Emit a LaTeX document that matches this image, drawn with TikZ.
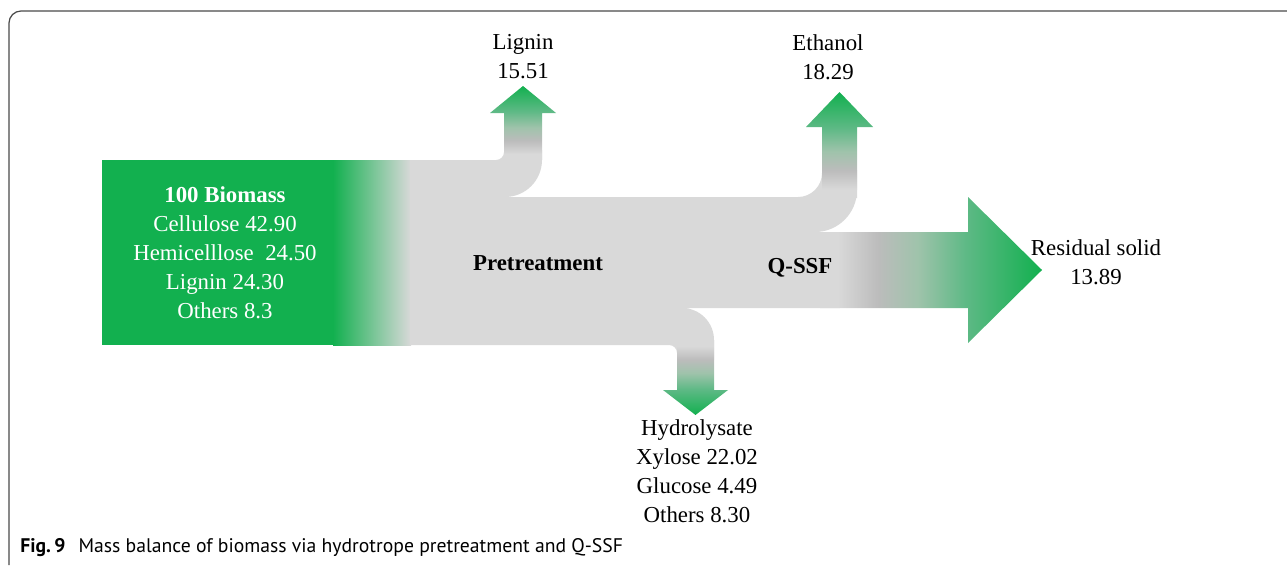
\documentclass[tikz,border=0pt]{standalone}
\usepackage{fontspec}
\setmainfont{Liberation Serif}
\newfontfamily\capfont{PT Sans}
\usepackage{xcolor}

\definecolor{leafgreen}{HTML}{12B04F}
\definecolor{flowgray}{HTML}{D9D9D9}
\definecolor{flowmid}{HTML}{BCBCBC}
\definecolor{flowsage}{HTML}{9FC3AB}
\definecolor{flowmint}{HTML}{5DB985}
\definecolor{framegray}{HTML}{4A4A4A}

% gray-to-green fades for the outgoing streams
\pgfdeclarehorizontalshading{toright}{100bp}{color(0bp)=(flowgray); color(25bp)=(flowgray);
    color(29bp)=(flowgray); color(38bp)=(flowmid); color(47bp)=(flowsage); color(58bp)=(flowmint);
    color(75bp)=(leafgreen); color(100bp)=(leafgreen)}
\pgfdeclareverticalshading{toup}{100bp}{color(0bp)=(flowgray); color(25bp)=(flowgray);
    color(29bp)=(flowgray); color(38bp)=(flowmid); color(47bp)=(flowsage); color(58bp)=(flowmint);
    color(75bp)=(leafgreen); color(100bp)=(leafgreen)}
\pgfdeclareverticalshading{todown}{100bp}{color(0bp)=(leafgreen); color(25bp)=(leafgreen);
    color(42bp)=(flowmint); color(53bp)=(flowsage); color(62bp)=(flowmid); color(71bp)=(flowgray);
    color(75bp)=(flowgray); color(100bp)=(flowgray)}

\tikzset{
    flowtext/.style={font=\fontsize{13}{16.5}\selectfont, align=center, inner sep=0pt},
    stagetext/.style={flowtext, font=\fontsize{13}{16.5}\selectfont\bfseries},
}

\begin{document}
\begin{tikzpicture}[x=0.02cm, y=-0.02cm]
    \useasboundingbox (0,0) rectangle (1287,565);

    % Frame
    \draw[framegray, line width=0.7pt] (9,565) -- (9,23) .. controls (9,16.4) and (14.4,11) .. (21,11) -- (1287,11);

    % Biomass block
    \fill[leafgreen] (102,160) rectangle (334,345);
    \shade[left color=leafgreen, right color=flowgray] (333,160) rectangle (411,345);

    % Gray flow body
    \fill[flowgray] (410,160) -- (496,160) .. controls (500.4,160) and (504,156.4) .. (504,152)
        -- (504,150) -- (542,150) -- (542,160) .. controls (542,180.4) and (525.4,197) .. (505,197)
        -- (798,197) .. controls (811.2,197) and (822,186.2) .. (822,173)
        -- (822,170) -- (857,170) -- (857,190) .. controls (857,213.2) and (838.2,232) .. (815,232)
        -- (840,232) -- (840,308) -- (682,308) .. controls (699.7,308) and (714,322.3) .. (714,340)
        -- (714,360) -- (677,360) -- (677,353) .. controls (677,348.6) and (673.4,345) .. (669,345)
        -- (410,345) -- cycle;

    % Lignin stream
    \shade[shading=toup] (504,160) -- (504,113) -- (490,113) -- (523,86) -- (556,113) -- (542,113) -- (542,160) -- cycle;

    % Ethanol stream
    \shade[shading=toup] (822,198) -- (822,127) -- (806,127) -- (839.5,92) -- (873,127) -- (857,127) -- (857,198) -- cycle;

    % Hydrolysate stream
    \shade[shading=todown] (677,340) -- (677,390) -- (663,390) -- (695.5,415) -- (728,390) -- (714,390) -- (714,340) -- cycle;

    % Residual solid stream
    \shade[shading=toright] (820,232) -- (968,232) -- (968,197) -- (1042,270) -- (968,343) -- (968,308) -- (820,308) -- cycle;

    % Labels
    \node[flowtext, text=white] (biomass) at (225,253) {\textbf{100 Biomass}\\Cellulose 42.90\\Hemicelllose~~24.50\\Lignin 24.30\\Others 8.3};
    \node[stagetext] (pretreat) at (538,263) {Pretreatment};
    \node[stagetext] (qssf) at (800,268) {Q-SSF};
    \node[flowtext] (lignin) at (523,57) {Lignin\\15.51};
    \node[flowtext] (ethanol) at (828,57) {Ethanol\\18.29};
    \node[flowtext] (residual) at (1096,262) {Residual solid\\13.89};
    \node[flowtext] (hydrolysate) at (697,471) {Hydrolysate\\Xylose 22.02\\Glucose 4.49\\Others 8.30};

    % Caption
    \node[anchor=west, inner sep=0pt, font=\capfont\fontsize{11.2}{13}\selectfont] (caption) at (20,548)
        {\textbf{Fig.\,9}\hspace{0.4em} Mass balance of biomass via hydrotrope pretreatment and Q-SSF};

\end{tikzpicture}
\end{document}
